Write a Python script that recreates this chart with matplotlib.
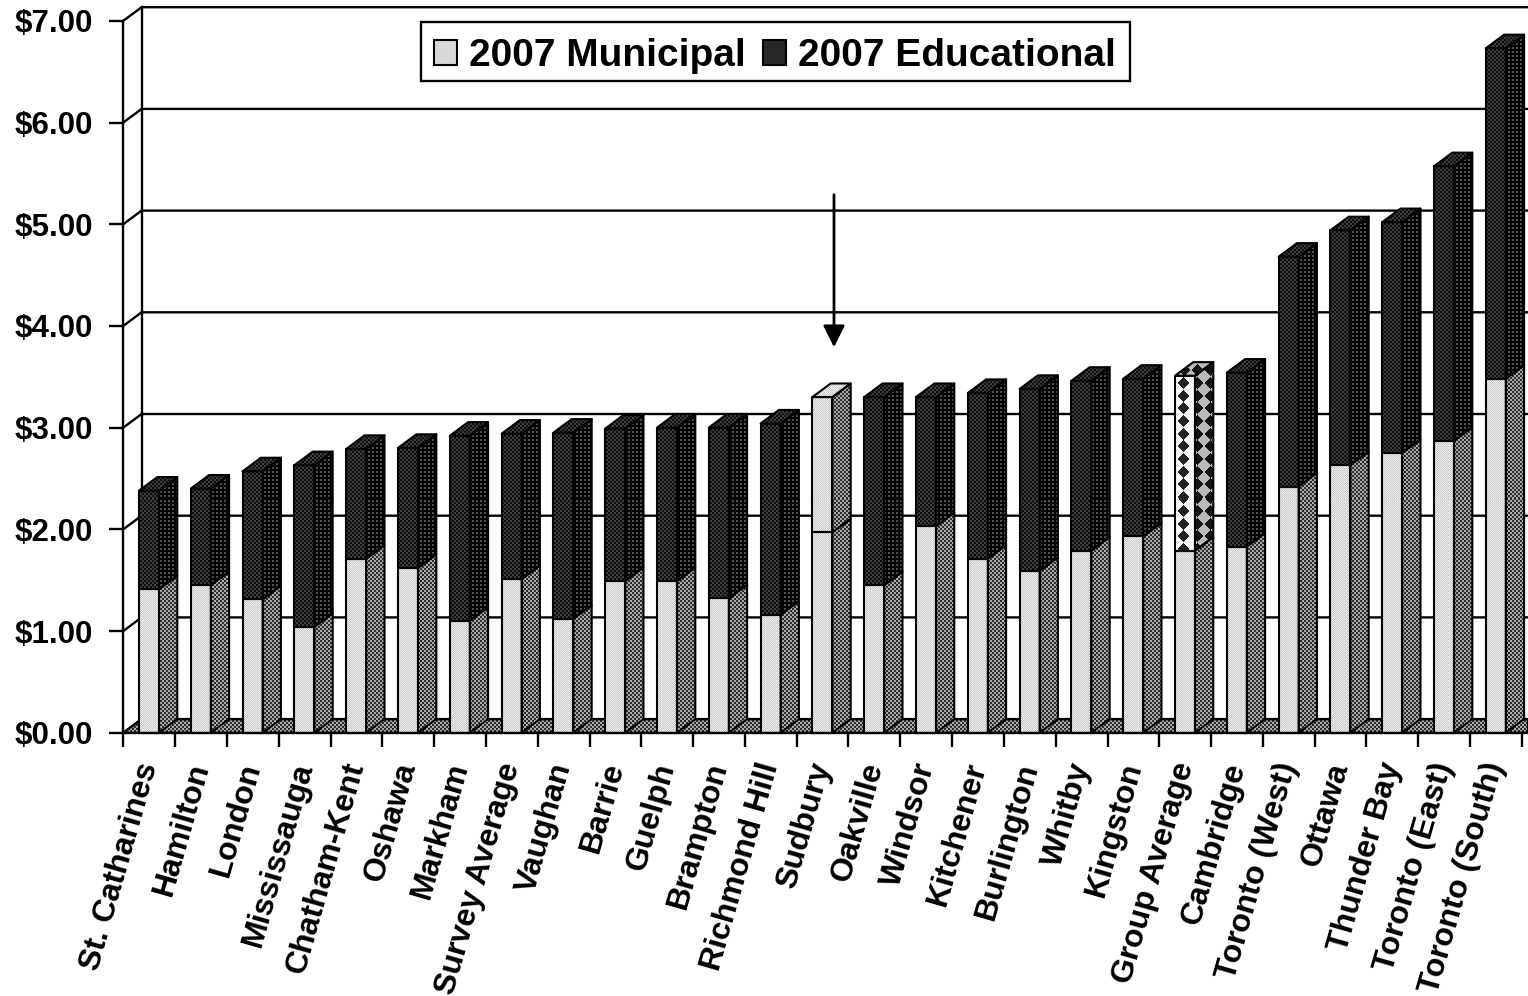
#!/usr/bin/env python3
import numpy as np
import matplotlib
matplotlib.use("Agg")
import matplotlib.pyplot as plt
from matplotlib.collections import PolyCollection
from matplotlib.patches import Patch, Rectangle
from matplotlib.path import Path
from matplotlib.ticker import FixedLocator, NullFormatter

plt.rcParams['font.family'] = ['Liberation Sans', 'DejaVu Sans']
plt.rcParams['font.weight'] = 'bold'

cities = ["St. Catharines", "Hamilton", "London", "Mississauga", "Chatham-Kent",
          "Oshawa", "Markham", "Survey Average", "Vaughan", "Barrie", "Guelph",
          "Brampton", "Richmond Hill", "Sudbury", "Oakville", "Windsor",
          "Kitchener", "Burlington", "Whitby", "Kingston", "Group Average",
          "Cambridge", "Toronto (West)", "Ottawa", "Thunder Bay",
          "Toronto (East)", "Toronto (South)"]
municipal = [1.41, 1.45, 1.31, 1.04, 1.71, 1.62, 1.10, 1.51, 1.12, 1.49, 1.49,
             1.32, 1.16, 1.97, 1.45, 2.03, 1.71, 1.59, 1.79, 1.93, 1.79,
             1.83, 2.42, 2.63, 2.75, 2.87, 3.48]
educational = [0.97, 0.95, 1.26, 1.59, 1.08, 1.18, 1.82, 1.43, 1.83, 1.50, 1.51,
               1.68, 1.88, 1.33, 1.85, 1.27, 1.63, 1.79, 1.67, 1.55, 1.72,
               1.71, 2.26, 2.31, 2.27, 2.70, 3.25]
dollar_ticks = [0, 1, 2, 3, 4, 5, 6, 7]

W, H = 1528, 996
PX_X, PX_Y = 51.8, 101.7           # pixels per category / per dollar
X0, Y0 = 123.3, 732.7              # where the front axes cross

fig = plt.figure(figsize=(W / 100, H / 100), dpi=100)
ax = fig.add_axes([0, 0, 1, 1])
xlim = (-X0 / PX_X, (W - X0) / PX_X)
ylim = (-(H - Y0) / PX_Y, Y0 / PX_Y)

depth_x = 18.3 / PX_X
depth_y = 13.6 / PX_Y
bar_w = 20.0 / PX_X
bar_off = 15.7 / PX_X

# halftone fills, one value per screen pixel
yy, xx = np.indices((H, W))


def checker(a, b, cell=1):
    return np.where((xx // cell + yy // cell) % 2 == 0, a, b).astype(float)


def dots(base, dot):
    return np.where((xx % 4 < 2) & (yy % 4 < 2), dot, base).astype(float)


def diamonds(back, ink, period_x, start_x):
    u = np.abs((xx - start_x + period_x / 2) % period_x - period_x / 2) / 6.0
    v = np.abs((yy - 383.3 + 6.35) % 12.7 - 6.35) / 6.0
    return np.where(u + v < 1, ink, back).astype(float)


tex_light = checker(240, 200)
tex_mid = checker(45, 170, 2)
tex_dark = checker(15, 62, 2)
tex_darkside = dots(2, 80)
tex_dia_front = diamonds(250, 35, 26, 1183)
tex_dia_side = diamonds(185, 20, 13, 1197)


def fill(polys, tex, z):
    im = ax.imshow(tex, cmap='gray', vmin=0, vmax=255, aspect='auto',
                   interpolation='nearest', zorder=z,
                   extent=(xlim[0], xlim[1], ylim[0], ylim[1]))
    im.set_clip_path(Path.make_compound_path(*[Path(p + [p[0]]) for p in polys]),
                     ax.transData)
    ax.add_collection(PolyCollection(polys, facecolors='none', edgecolors='black',
                                     linewidths=1.5, zorder=z + 0.1))


def front(x, lo, hi):
    return [(x, lo), (x + bar_w, lo), (x + bar_w, hi), (x, hi)]


def side(x, lo, hi):
    r = x + bar_w
    return [(r, lo), (r + depth_x, lo + depth_y), (r + depth_x, hi + depth_y), (r, hi)]


def top(x, hi):
    return [(x, hi), (x + bar_w, hi), (x + bar_w + depth_x, hi + depth_y), (x + depth_x, hi + depth_y)]


# walls and floor
fill([[(0, 0), (depth_x, depth_y), (xlim[1], depth_y), (xlim[1], 0)]], tex_mid, 1)
for v in dollar_ticks:
    ax.plot([0, depth_x, xlim[1]], [v, v + depth_y, v + depth_y], color='black', lw=1.7, zorder=1.5)
ax.plot([depth_x, depth_x], [depth_y, 7 + depth_y], color='black', lw=1.7, zorder=1.5)

# bars; Sudbury and the group average carry their own fills
groups = {k: [] for k in ('light', 'mid', 'dark', 'darkside', 'dia_front', 'dia_side')}
for i, (m, e) in enumerate(zip(municipal, educational)):
    x = i + bar_off
    t = m + e
    groups['light'].append(front(x, 0, m))
    groups['mid'].append(side(x, 0, m))
    if cities[i] == "Sudbury":
        groups['light'] += [front(x, m, t), top(x, t)]
        groups['mid'].append(side(x, m, t))
    elif cities[i] == "Group Average":
        groups['dia_front'].append(front(x, m, t))
        groups['dia_side'] += [side(x, m, t), top(x, t)]
    else:
        groups['dark'] += [front(x, m, t), top(x, t)]
        groups['darkside'].append(side(x, m, t))

fill(groups['light'], tex_light, 3)
fill(groups['mid'], tex_mid, 3)
fill(groups['dark'], tex_dark, 3)
fill(groups['darkside'], tex_darkside, 3)
fill(groups['dia_front'], tex_dia_front, 3)
fill(groups['dia_side'], tex_dia_side, 3)

ax.annotate("", xy=(13.72, 3.79), xytext=(13.72, 5.29), zorder=6,
            arrowprops=dict(arrowstyle='-|>,head_width=0.3,head_length=0.6', color='black',
                            lw=2, shrinkA=0, shrinkB=0, mutation_scale=22))

ax.set_xlim(*xlim)
ax.set_ylim(*ylim)

for s in ('top', 'right'):
    ax.spines[s].set_visible(False)
ax.spines['left'].set_position(('data', 0))
ax.spines['bottom'].set_position(('data', 0))
ax.spines['left'].set_bounds(0, 7)
ax.spines['bottom'].set_bounds(0, xlim[1])
ax.spines['left'].set_linewidth(1.7)
ax.spines['bottom'].set_linewidth(1.7)
ax.spines['left'].set_zorder(5)
ax.spines['bottom'].set_zorder(5)

ax.set_yticks(dollar_ticks)
ax.set_yticklabels(["$%d.00" % v for v in dollar_ticks], fontsize=22.5, fontweight='bold')
ax.tick_params(axis='y', length=10, width=1.7, pad=12)

ax.set_xticks(np.arange(len(cities)) + 0.5)
ax.set_xticklabels(cities, fontsize=23, fontweight='bold', rotation=74,
                   ha='right', va='center', rotation_mode='anchor')
ax.xaxis.set_minor_locator(FixedLocator(np.arange(len(cities) + 1)))
ax.xaxis.set_minor_formatter(NullFormatter())
ax.tick_params(axis='x', which='major', length=0, pad=22)
ax.tick_params(axis='x', which='minor', length=10, width=1.7)

# legend box is a separate rectangle so the entries can sit a little low in it
ax.add_patch(Rectangle((421 / W, 1 - 81 / H), 709 / W, 59 / H, transform=ax.transAxes,
                       facecolor='white', edgecolor='black', lw=1.7, zorder=6.5))
handles = [Patch(facecolor='#d8d8d8', edgecolor='black', lw=1.5),
           Patch(facecolor='#282828', edgecolor='black', lw=1.5)]
leg = ax.legend(handles, ["2007 Municipal", "2007 Educational"], ncol=2,
                loc='upper left', bbox_to_anchor=(423 / W, 1 - 27 / H), borderaxespad=0,
                prop=dict(size=28, weight='bold'), handlelength=0.6, handleheight=0.6,
                handletextpad=0.3, columnspacing=0.45, borderpad=0.28,
                fancybox=False, frameon=False)
leg.set_zorder(7)

fig.savefig("out.png", dpi=100)
